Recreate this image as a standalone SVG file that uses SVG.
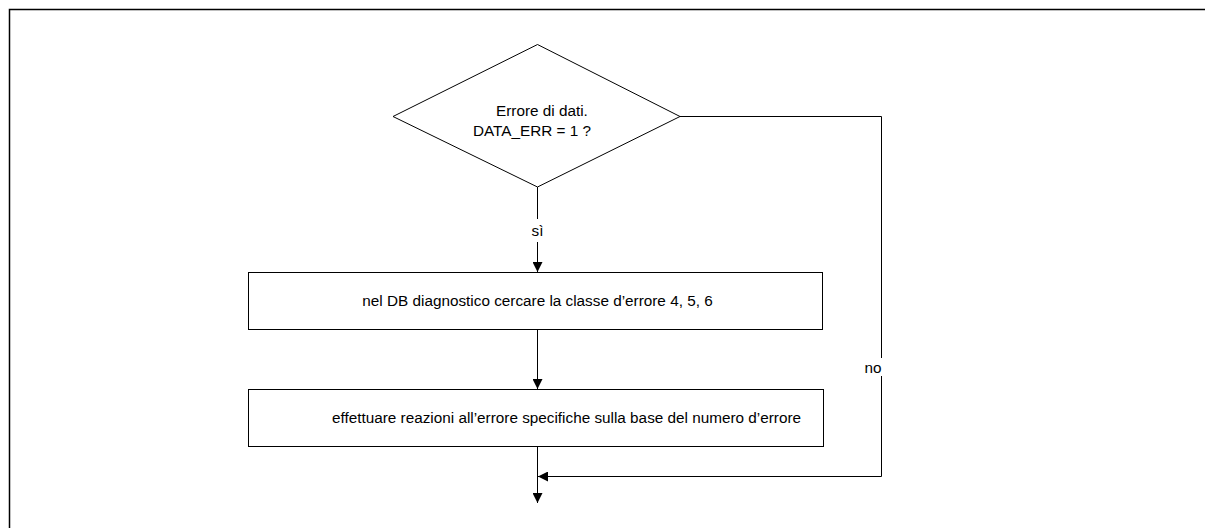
<svg xmlns="http://www.w3.org/2000/svg" width="1205" height="528" viewBox="0 0 1205 528">
  <style>
    .shape { fill: #ffffff; stroke: #000000; stroke-width: 1; }
    .wire { fill: none; stroke: #000000; stroke-width: 1; }
    .lbl { font-family: "Liberation Sans", Arial, sans-serif; font-size: 15.3px; fill: #000000; }
  </style>
  <defs>
    <marker id="arrow" viewBox="0 0 10 10" refX="10" refY="5" markerWidth="10" markerHeight="10" markerUnits="userSpaceOnUse" orient="auto">
      <path d="M0,0 L10,5 L0,10 z" fill="#000000"/>
    </marker>
  </defs>

  <!-- outer frame -->
  <rect x="9.5" y="9.5" width="1210" height="530" fill="none" stroke="#000000" stroke-width="1.5"/>

  <!-- connectors -->
  <g id="connectors">
    <line class="wire" x1="537.5" y1="187" x2="537.5" y2="219"/>
    <line class="wire" x1="537.5" y1="242" x2="537.5" y2="272" marker-end="url(#arrow)"/>
    <line class="wire" x1="537.5" y1="330" x2="537.5" y2="389" marker-end="url(#arrow)"/>
    <line class="wire" x1="537.5" y1="446" x2="537.5" y2="503" marker-end="url(#arrow)"/>
    <polyline class="wire" points="680,116.5 881.5,116.5 881.5,358"/>
    <polyline class="wire" points="881.5,376 881.5,476.5 538,476.5" marker-end="url(#arrow)"/>
    <text class="lbl" x="537.5" y="236" text-anchor="middle">sì</text>
    <text class="lbl" x="873" y="373" text-anchor="middle">no</text>
  </g>

  <!-- decision -->
  <g id="decision">
    <polygon class="shape" points="537.5,44.5 680,116.5 537.5,187 393,116.5"/>
    <text class="lbl" x="496" y="116">Errore di dati.</text>
    <text class="lbl" x="473" y="136">DATA_ERR = 1 ?</text>
  </g>

  <!-- step 1 -->
  <g id="search">
    <rect class="shape" x="248.5" y="272.5" width="574" height="57"/>
    <text class="lbl" x="537.5" y="306" text-anchor="middle">nel DB diagnostico cercare la classe d’errore 4, 5, 6</text>
  </g>

  <!-- step 2 -->
  <g id="react">
    <rect class="shape" x="248.5" y="389.5" width="575" height="57"/>
    <text class="lbl" x="566.5" y="423" text-anchor="middle">effettuare reazioni all’errore specifiche sulla base del numero d’errore</text>
  </g>
</svg>
